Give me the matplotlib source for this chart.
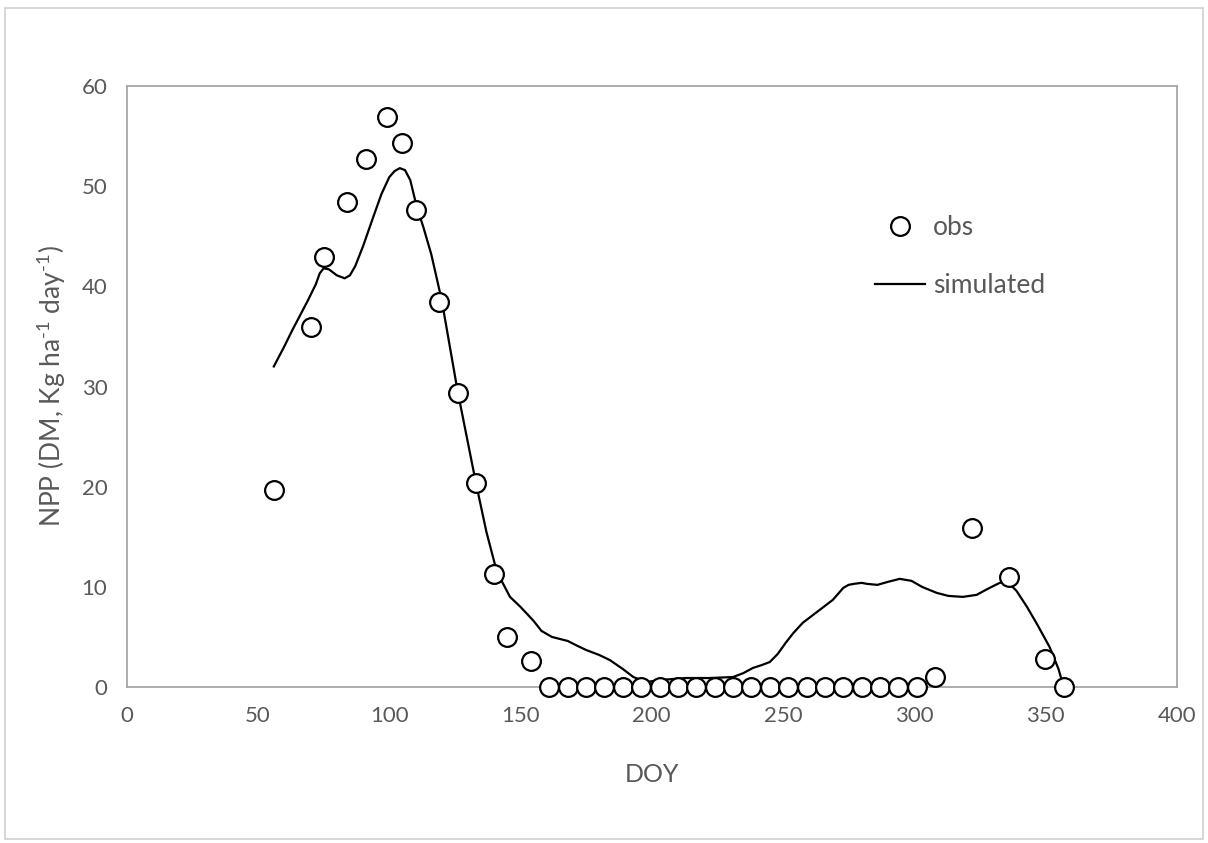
import matplotlib.pyplot as plt
from matplotlib.patches import Rectangle

# observed NPP
obs_doy = [56, 70, 75, 84, 91, 99, 105, 110, 119, 126, 133, 140, 145, 154,
           161, 168, 175, 182, 189, 196, 203, 210, 217, 224, 231, 238, 245,
           252, 259, 266, 273, 280, 287, 294, 301,
           308, 322, 336, 350, 357]
obs_npp = [19.7, 35.9, 42.9, 48.4, 52.7, 56.9, 54.3, 47.6, 38.4, 29.4, 20.4, 11.3, 5.0, 2.6,
           0, 0, 0, 0, 0, 0, 0, 0, 0, 0, 0, 0, 0,
           0, 0, 0, 0, 0, 0, 0, 0,
           1.0, 15.9, 11.0, 2.8, 0]

# simulated NPP
sim_doy = [56, 60, 63, 66, 69, 72, 73.5, 75, 77, 80, 83, 85, 87, 90, 94, 97, 100, 102, 104,
           106, 108, 110.5, 113, 116, 120, 126,
           133, 137, 141, 146, 150, 155, 158, 162, 168, 171, 175, 180, 184, 189, 193, 198,
           203, 213, 222, 231,
           235, 238.5, 242, 245, 248, 251, 254, 257.5, 261, 264, 269, 271, 273, 275, 277,
           280, 282, 286, 290, 294.5, 299, 303,
           308.6, 313, 318.5, 323.8, 328, 332.6, 335.6, 339, 343, 347, 351.6, 355, 357]
sim_npp = [32.0, 34.0, 35.6, 37.1, 38.6, 40.2, 41.3, 41.8, 41.7, 41.1, 40.8, 41.1, 42.0, 44.0, 47.0, 49.2, 50.9, 51.5, 51.8,
           51.6, 50.6, 47.9, 45.9, 43.2, 38.6, 29.6,
           20.4, 15.5, 11.5, 9.0, 8.0, 6.6, 5.6, 5.0, 4.6, 4.2, 3.7, 3.2, 2.7, 1.8, 1.0, 0.5,
           0.7, 0.9, 0.9, 1.0,
           1.4, 1.9, 2.2, 2.5, 3.3, 4.4, 5.4, 6.4, 7.1, 7.7, 8.7, 9.3, 9.9, 10.2, 10.3,
           10.4, 10.3, 10.2, 10.5, 10.8, 10.6, 10.0,
           9.4, 9.1, 9.0, 9.2, 9.8, 10.4, 10.5, 9.6, 8.0, 6.2, 4.0, 1.8, 0]

plt.rcParams['font.family'] = ['Lato', 'DejaVu Sans']
plt.rcParams['mathtext.fontset'] = 'custom'
plt.rcParams['mathtext.rm'] = 'Lato'
txt = '#595959'

fig = plt.figure(figsize=(12.08, 8.43), dpi=100)
ax = fig.add_axes([0.105, 0.185, 0.869, 0.713])

ax.plot(sim_doy, sim_npp, color='black', lw=1.6, label='simulated')
ax.plot(obs_doy, obs_npp, 'o', mfc='white', mec='black', mew=1.6, ms=13.5,
        label='obs', clip_on=False, zorder=3)

ax.set_xlim(0, 400)
ax.set_ylim(0, 60)
ax.set_xticks(range(0, 401, 50))
ax.set_yticks(range(0, 61, 10))
ax.tick_params(length=0, labelsize=16, labelcolor=txt)
ax.tick_params(axis='x', pad=14)
ax.tick_params(axis='y', pad=14)
for s in ax.spines.values():
    s.set_color('#a6a6a6')
    s.set_linewidth(1.3)

ax.set_xlabel('DOY', fontsize=18, color=txt, labelpad=26)
ax.set_ylabel(r'NPP (DM, Kg ha$^{\text{-1}}$ day$^{\text{-1}}$)', fontsize=19, color=txt, labelpad=10)

h, l = ax.get_legend_handles_labels()
leg = ax.legend(h[::-1], l[::-1], frameon=False, fontsize=19, labelcolor=txt,
                loc='upper left', bbox_to_anchor=(0.69, 0.825), handlelength=1.9,
                handletextpad=0.3, labelspacing=1.25)

fig.patches.append(Rectangle((0.004, 0.005), 0.992, 0.985, transform=fig.transFigure,
                             fill=False, edgecolor='#d0d0d0', lw=1.2))

fig.savefig('out.png', dpi=100)
